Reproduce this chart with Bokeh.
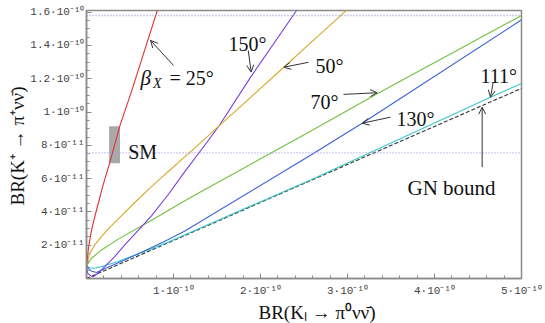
from bokeh.plotting import figure
from bokeh.models import Range1d, FixedTicker, Span, Label, Arrow, OpenHead, Title
from bokeh.embed import file_html
from bokeh.resources import INLINE

# ---- data (x in units of 1e-10, y in units of 1e-11) ----
red_x = [0.0, 0.023, 0.054, 0.092, 0.130, 0.187, 0.264, 0.383, 0.524, 0.816, 0.851]
red_y = [0.75, 1.85, 2.80, 3.65, 4.40, 5.55, 6.90, 9.15, 11.35, 16.14, 16.70]

gold_x = [0.0, 0.034, 0.092, 0.169, 0.264, 0.360, 0.552, 0.744, 0.934, 1.126, 1.310, 1.521, 2.268, 2.575, 2.984, 3.046]
gold_y = [0.75, 1.45, 2.00, 2.50, 3.05, 3.55, 4.55, 5.50, 6.40, 7.29, 8.15, 9.15, 12.69, 14.15, 16.09, 16.40]

purple_x = [0.0, 0.015, 0.054, 0.080, 0.130, 0.207, 0.322, 0.437, 0.552, 0.744, 0.934, 1.126, 1.387, 1.521, 1.885, 2.414, 2.46]
purple_y = [0.75, 0.30, 0.14, 0.12, 0.30, 0.70, 1.30, 2.00, 2.65, 3.75, 5.00, 6.39, 8.20, 9.15, 12.08, 16.10, 16.45]

green_x = [0.0, 0.054, 0.169, 0.360, 0.647, 0.851, 1.126, 1.310, 2.575, 3.341, 5.0]
green_y = [0.75, 1.20, 1.70, 2.35, 3.20, 3.82, 4.65, 5.20, 8.85, 11.10, 15.80]

blue_x = [0.0, 0.054, 0.115, 0.207, 0.360, 0.552, 0.744, 0.934, 1.126, 2.575, 3.169, 5.0]
blue_y = [0.75, 0.45, 0.36, 0.58, 0.93, 1.38, 1.85, 2.33, 2.84, 7.40, 9.33, 15.54]

cyan_x = [0.0, 0.034, 0.092, 0.207, 0.360, 0.552, 0.744, 0.934, 1.126, 2.575, 4.644, 5.0]
cyan_y = [0.75, 0.65, 0.62, 0.76, 1.02, 1.40, 1.78, 2.18, 2.62, 5.92, 10.89, 11.72]

gn_x = [0.0, 5.0]
gn_y = [0.0, 11.42]

exp_levels = [7.55, 15.80]
sm_left, sm_right, sm_bottom, sm_top = [0.26], [0.385], [6.93], [9.15]

x_ticks = [1, 2, 3, 4, 5]
x_tick_labels = ["1·10⁻¹⁰", "2·10⁻¹⁰", "3·10⁻¹⁰", "4·10⁻¹⁰", "5·10⁻¹⁰"]
y_ticks = [2, 4, 6, 8, 10, 12, 14, 16]
y_tick_labels = ["2·10⁻¹¹", "4·10⁻¹¹", "6·10⁻¹¹", "8·10⁻¹¹", "1·10⁻¹⁰", "1.2·10⁻¹⁰", "1.4·10⁻¹⁰", "1.6·10⁻¹⁰"]

# ---- figure ----
p = figure(width=545, height=323, x_range=Range1d(0, 5), y_range=Range1d(0, 16.1),
           output_backend="svg", toolbar_location=None,
           min_border_left=86, min_border_right=24, min_border_top=10, min_border_bottom=45)
p.xgrid.visible = False
p.ygrid.visible = False
p.outline_line_color = "#8a8a8a"
p.outline_line_width = 1.5
p.background_fill_color = "white"
p.border_fill_color = "white"

p.xaxis.ticker = FixedTicker(ticks=x_ticks, minor_ticks=[i * 0.2 for i in range(1, 25)])
p.yaxis.ticker = FixedTicker(ticks=y_ticks, minor_ticks=[i * 0.5 for i in range(1, 33)])
p.xaxis.major_label_overrides = dict(zip(x_ticks, x_tick_labels))
p.yaxis.major_label_overrides = dict(zip(y_ticks, y_tick_labels))
for ax in (p.xaxis, p.yaxis):
    ax.axis_line_color = "#8a8a8a"
    ax.axis_line_width = 1.5
    ax.major_tick_line_color = "#8a8a8a"
    ax.minor_tick_line_color = "#8a8a8a"
    ax.major_tick_in = 5
    ax.major_tick_out = 0
    ax.minor_tick_in = 3
    ax.minor_tick_out = 0
    ax.major_label_text_font = "Liberation Mono"
    ax.major_label_text_font_size = "11px"
    ax.major_label_text_color = "#444444"
p.xaxis.major_label_standoff = 6
p.yaxis.major_label_standoff = 2

# axis titles as side-panel titles
serif = "Liberation Serif"
p.add_layout(Title(text="BR(Kₗ → π⁰νν̄)", align="left", offset=172, standoff=0,
                   text_font=serif, text_font_size="19px", text_font_style="normal",
                   text_color="#111111"), "below")
p.add_layout(Title(text="BR(K⁺ → π⁺νν̄)", align="left", offset=73, standoff=0,
                   text_font=serif, text_font_size="19px", text_font_style="normal",
                   text_color="#111111"), "left")

# experimental dotted levels
for lv in exp_levels:
    p.add_layout(Span(location=lv, dimension="width", line_color="#9a9ae0",
                      line_dash="1 2", line_width=1.3))

# SM box
p.quad(left=sm_left, right=sm_right, bottom=sm_bottom, top=sm_top,
       fill_color="#a9a9a9", line_color=None)

lw = 1.1
p.line(gn_x, gn_y, line_color="#333333", line_dash="4 2", line_width=1.1)
p.line(cyan_x, cyan_y, line_color="#3cc8c8", line_width=lw)
p.line(blue_x, blue_y, line_color="#3a62d8", line_width=lw)
p.line(green_x, green_y, line_color="#70c040", line_width=lw)
p.line(purple_x, purple_y, line_color="#7b3fe0", line_width=lw)
p.line(gold_x, gold_y, line_color="#d6a92a", line_width=lw)
p.line(red_x, red_y, line_color="#e03030", line_width=lw)


def lab(x, y, text, size="20px", style="normal"):
    p.add_layout(Label(x=x, y=y, text=text, text_font=serif, text_font_size=size,
                       text_font_style=style, text_color="#111111", text_align="left",
                       text_baseline="alphabetic"))

lab(1.632, 14.11, "150°")
lab(2.632, 12.74, "50°")
lab(2.575, 10.58, "70°")
lab(3.563, 9.56, "130°")
lab(4.529, 12.14, "111°")
lab(3.690, 5.45, "GN bound", size="21px")
lab(0.479, 7.59, "SM")
lab(0.621, 12.02, "β", size="21px", style="italic")
lab(0.765, 11.70, "X", size="14px", style="italic")
lab(0.954, 12.02, "= 25°")

arrows = [
    ((1.0, 12.80), (0.736, 14.30)),
    ((1.859, 13.70), (1.893, 12.40)),
    ((2.552, 12.99), (2.268, 12.69)),
    ((2.954, 11.06), (3.341, 11.16)),
    ((3.494, 9.69), (3.169, 9.33)),
    ((4.675, 11.79), (4.644, 10.89)),
    ((4.548, 6.69), (4.548, 10.29)),
]
for (x0, y0), (x1, y1) in arrows:
    p.add_layout(Arrow(x_start=x0, y_start=y0, x_end=x1, y_end=y1,
                       line_color="#333333", line_width=1.0,
                       end=OpenHead(size=7, line_color="#333333", line_width=1.0)))

open("out.html", "w").write(file_html(p, INLINE))
